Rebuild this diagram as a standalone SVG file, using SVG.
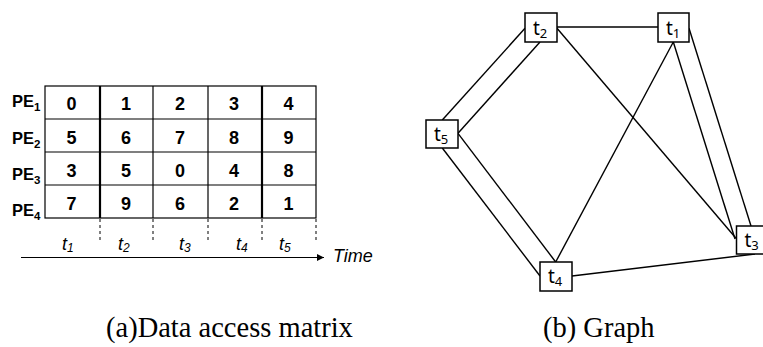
<svg xmlns="http://www.w3.org/2000/svg" width="763" height="347" viewBox="0 0 763 347">
<defs>
<style>
.grid{stroke:#000;stroke-width:1.2;fill:none}
.thick{stroke:#000;stroke-width:2.2}
.dash{stroke:#000;stroke-width:1;stroke-dasharray:3,3}
.num{font-family:"Liberation Sans",Arial,sans-serif;font-weight:bold;font-size:18px;text-anchor:middle;fill:#000}
.pe{font-family:"Liberation Sans",Arial,sans-serif;font-weight:bold;font-size:16.5px;fill:#000}
.tl{font-family:"Liberation Sans",Arial,sans-serif;font-style:italic;font-size:18px;fill:#000}
.cap{font-family:"Liberation Serif","Times New Roman",serif;font-size:28.5px;fill:#000}
.edge{stroke:#000;stroke-width:1.4;fill:none}
.box{fill:#fff;stroke:#000;stroke-width:1.5}
.nl{font-family:"Noto Sans",sans-serif;font-size:19px;fill:#000}
</style>
<marker id="arr" viewBox="0 0 10 10" refX="10" refY="5" markerWidth="8" markerHeight="7" markerUnits="userSpaceOnUse" orient="auto">
<path d="M0,0 L10,5 L0,10 Z" fill="#000"/>
</marker>
</defs>

<g id="matrix">
<rect class="grid" x="45" y="86" width="271" height="132"/>
<line class="grid" x1="45" y1="119" x2="316" y2="119"/>
<line class="grid" x1="45" y1="152" x2="316" y2="152"/>
<line class="grid" x1="45" y1="185" x2="316" y2="185"/>
<line class="thick" x1="100" y1="86" x2="100" y2="218"/>
<line class="grid" x1="153" y1="86" x2="153" y2="218"/>
<line class="grid" x1="208" y1="86" x2="208" y2="218"/>
<line class="thick" x1="262" y1="86" x2="262" y2="218"/>
<line class="dash" x1="100" y1="219" x2="100" y2="242"/>
<line class="dash" x1="153" y1="219" x2="153" y2="242"/>
<line class="dash" x1="208" y1="219" x2="208" y2="242"/>
<line class="dash" x1="262" y1="219" x2="262" y2="242"/>
<line class="dash" x1="316" y1="219" x2="316" y2="242"/>

<text class="pe" x="12" y="107">PE<tspan font-size="11.5" dy="4">1</tspan></text>
<text class="pe" x="12" y="143.5">PE<tspan font-size="11.5" dy="4">2</tspan></text>
<text class="pe" x="12" y="180">PE<tspan font-size="11.5" dy="4">3</tspan></text>
<text class="pe" x="12" y="216">PE<tspan font-size="11.5" dy="4">4</tspan></text>

<text class="num" x="71.5" y="110">0</text>
<text class="num" x="126" y="110">1</text>
<text class="num" x="180" y="110">2</text>
<text class="num" x="234" y="110">3</text>
<text class="num" x="288.5" y="110">4</text>
<text class="num" x="71.5" y="143.5">5</text>
<text class="num" x="126" y="143.5">6</text>
<text class="num" x="180" y="143.5">7</text>
<text class="num" x="234" y="143.5">8</text>
<text class="num" x="288.5" y="143.5">9</text>
<text class="num" x="71.5" y="176.5">3</text>
<text class="num" x="126" y="176.5">5</text>
<text class="num" x="180" y="176.5">0</text>
<text class="num" x="234" y="176.5">4</text>
<text class="num" x="288.5" y="176.5">8</text>
<text class="num" x="71.5" y="209.5">7</text>
<text class="num" x="126" y="209.5">9</text>
<text class="num" x="180" y="209.5">6</text>
<text class="num" x="234" y="209.5">2</text>
<text class="num" x="288.5" y="209.5">1</text>

<text class="tl" x="62" y="250">t<tspan font-size="12" dy="2">1</tspan></text>
<text class="tl" x="118" y="250">t<tspan font-size="12" dy="2">2</tspan></text>
<text class="tl" x="179" y="250">t<tspan font-size="12" dy="2">3</tspan></text>
<text class="tl" x="236" y="250">t<tspan font-size="12" dy="2">4</tspan></text>
<text class="tl" x="279" y="250">t<tspan font-size="12" dy="2">5</tspan></text>

<line class="grid" x1="21" y1="257.5" x2="324" y2="257.5" marker-end="url(#arr)"/>
<text class="tl" x="333" y="262" font-size="17">Time</text>
</g>

<g id="connectors">
<line class="edge" x1="557" y1="27" x2="658" y2="27" stroke-width="2.2"/>
<line class="edge" x1="442.3" y1="120" x2="525" y2="28.3"/>
<line class="edge" x1="458" y1="133.3" x2="540" y2="42"/>
<line class="edge" x1="442.3" y1="148" x2="540" y2="276"/>
<line class="edge" x1="458" y1="133.3" x2="555.7" y2="262"/>
<line class="edge" x1="555.7" y1="262" x2="673.3" y2="42"/>
<line class="edge" x1="557" y1="28.3" x2="736" y2="238.3"/>
<line class="edge" x1="673.3" y1="42" x2="735" y2="239"/>
<line class="edge" x1="689" y1="28.3" x2="751" y2="226"/>
<line class="edge" x1="572" y1="276" x2="755" y2="254"/>
</g>

<g id="node-t2">
<rect class="box" x="525" y="13" width="32" height="29"/>
<text class="nl" x="533" y="35">t<tspan font-size="13" dy="3">2</tspan></text>
</g>
<g id="node-t1">
<rect class="box" x="658" y="13" width="31" height="29"/>
<text class="nl" x="666" y="35">t<tspan font-size="13" dy="3">1</tspan></text>
</g>
<g id="node-t5">
<rect class="box" x="426" y="120" width="32" height="28"/>
<text class="nl" x="434" y="141">t<tspan font-size="13" dy="3">5</tspan></text>
</g>
<g id="node-t3">
<rect class="box" x="736.5" y="226" width="32" height="28"/>
<text class="nl" x="744.5" y="247">t<tspan font-size="13" dy="3">3</tspan></text>
</g>
<g id="node-t4">
<rect class="box" x="540" y="262" width="32" height="29"/>
<text class="nl" x="548" y="283">t<tspan font-size="13" dy="3">4</tspan></text>
</g>

<text class="cap" x="106" y="337">(a)Data access matrix</text>
<text class="cap" x="543" y="337">(b) Graph</text>
</svg>
